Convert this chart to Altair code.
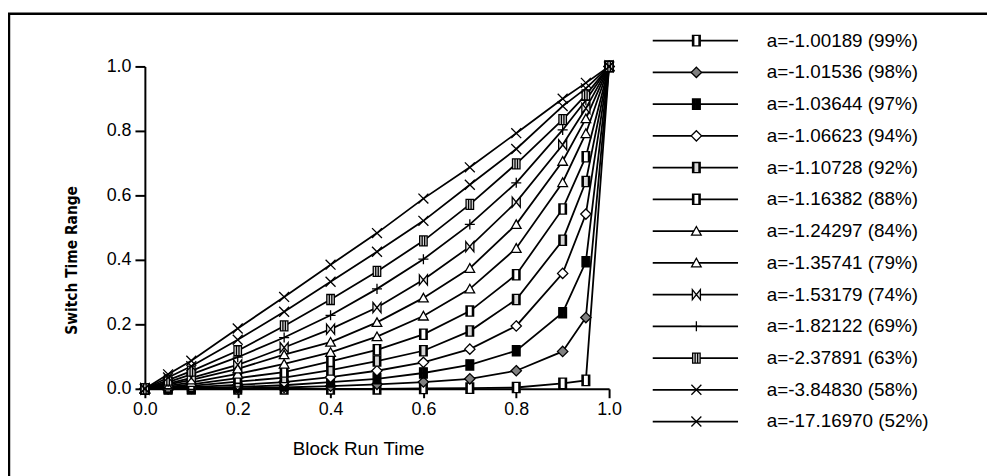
import altair as alt
import pandas as pd

# x positions (Block Run Time)
xs = [0, 0.05, 0.1, 0.2, 0.3, 0.4, 0.5, 0.6, 0.7, 0.8, 0.9, 0.95, 1.0]

labels = [
    "a=-1.00189 (99%)", "a=-1.01536 (98%)", "a=-1.03644 (97%)", "a=-1.06623 (94%)",
    "a=-1.10728 (92%)", "a=-1.16382 (88%)", "a=-1.24297 (84%)", "a=-1.35741 (79%)",
    "a=-1.53179 (74%)", "a=-1.82122 (69%)", "a=-2.37891 (63%)", "a=-3.84830 (58%)",
    "a=-17.16970 (52%)",
]

# Switch Time Range values, one list per series
s01 = [0, 0, 0, 0, 0, 0, 0, 0.001, 0.002, 0.004, 0.017, 0.026, 1]
s02 = [0, 0, 0.001, 0.002, 0.004, 0.008, 0.014, 0.021, 0.031, 0.056, 0.116, 0.221, 1]
s03 = [0, 0.001, 0.002, 0.006, 0.011, 0.021, 0.031, 0.049, 0.074, 0.118, 0.236, 0.394, 1]
s04 = [0, 0.002, 0.005, 0.012, 0.021, 0.036, 0.056, 0.082, 0.123, 0.195, 0.358, 0.542, 1]
s05 = [0, 0.004, 0.009, 0.022, 0.035, 0.058, 0.086, 0.118, 0.179, 0.277, 0.461, 0.643, 1]
s06 = [0, 0.006, 0.014, 0.033, 0.052, 0.085, 0.121, 0.169, 0.241, 0.354, 0.558, 0.720, 1]
s07 = [0, 0.009, 0.020, 0.046, 0.077, 0.113, 0.162, 0.226, 0.310, 0.436, 0.640, 0.792, 1]
s08 = [0, 0.013, 0.028, 0.062, 0.106, 0.145, 0.206, 0.282, 0.374, 0.510, 0.706, 0.838, 1]
s09 = [0, 0.016, 0.034, 0.074, 0.128, 0.185, 0.252, 0.338, 0.441, 0.579, 0.757, 0.870, 1]
s10 = [0, 0.021, 0.045, 0.098, 0.159, 0.228, 0.310, 0.402, 0.510, 0.639, 0.803, 0.895, 1]
s11 = [0, 0.027, 0.055, 0.118, 0.195, 0.277, 0.364, 0.459, 0.572, 0.698, 0.835, 0.912, 1]
s12 = [0, 0.035, 0.070, 0.152, 0.239, 0.332, 0.425, 0.521, 0.633, 0.744, 0.877, 0.932, 1]
s13 = [0, 0.045, 0.087, 0.187, 0.285, 0.385, 0.483, 0.590, 0.687, 0.793, 0.900, 0.949, 1]
series_values = [s01, s02, s03, s04, s05, s06, s07, s08, s09, s10, s11, s12, s13]

# marker styles
P_HBOX = "M-0.75,-1H0.75V1H-0.75ZM-0.5,-1V1M0.5,-1V1"
P_DIAM = "M0,-1L1,0L0,1L-1,0Z"
P_SPLIT = "M-0.75,-1H-0.12V1H-0.75ZM0.12,-1H0.75V1H0.12Z"
P_TRI = "M0,-0.9L0.95,0.8H-0.95Z"
P_BOW = "M-0.8,-1L0.8,1V-1L-0.8,1Z"
P_PLUS = "M-1,0H1M0,-1V1"
P_HASH = "M-0.75,-1H0.75V1H-0.75ZM-0.25,-1V1M0.25,-1V1"
P_X = "M-1,-1L1,1M-1,1L1,-1"
shapes = [P_HBOX, P_DIAM, P_SPLIT, P_DIAM, P_HBOX, P_HBOX, P_TRI, P_TRI, P_BOW, P_PLUS, P_HASH, P_X, P_X]
fills = ["#ffffff", "#808080", "#000000", "#ffffff", "#d8d8d8", "#ffffff", "#ffffff", "#ffffff",
         "#e6e6e6", "#ffffff", "#d8d8d8", "#ffffff", "#ffffff"]
sizes = [110, 100, 110, 64, 120, 110, 100, 100, 110, 100, 110, 130, 90]
widths = [1.3, 1.3, 1.3, 1.5, 1.3, 1.3, 1.6, 2.0, 1.6, 2.0, 1.6, 2.2, 2.6]

rows = []
for lab, vals in zip(labels, series_values):
    for x, y in zip(xs, vals):
        rows.append({"series": lab, "x": x, "y": y})
df = pd.DataFrame(rows)
leg = pd.DataFrame({"series": labels, "row": list(range(len(labels)))})
box = pd.DataFrame({"k": [0]})

shape_enc = alt.Shape("series:N", scale=alt.Scale(domain=labels, range=shapes), legend=None)
fill_enc = alt.Fill("series:N", scale=alt.Scale(domain=labels, range=fills), legend=None)
size_enc = alt.Size("series:N", scale=alt.Scale(domain=labels, range=sizes), legend=None)
sw_enc = alt.StrokeWidth("series:N", scale=alt.Scale(domain=labels, range=widths), legend=None)

even = "abs(round(datum.value*10) % 2) < 0.5"

xenc = alt.X("x:Q", scale=alt.Scale(domain=[0, 1], nice=False),
             axis=alt.Axis(values=[0, 0.2, 0.4, 0.6, 0.8, 1.0], format=".1f", tickSize=9,
                           labelPadding=3, labelFlush=False,
                           title="Block Run Time", titleX=215, titleY=60,
                           titleBaseline="middle", titleAlign="center", titleFontWeight="normal",
                           titleFontSize=19, titleFont="Liberation Sans"))
yenc = alt.Y("y:Q", scale=alt.Scale(domain=[0, 1], nice=False),
             axis=alt.Axis(values=[0, 0.1, 0.2, 0.3, 0.4, 0.5, 0.6, 0.7, 0.8, 0.9, 1.0],
                           labelExpr=f"({even}) ? format(datum.value, '.1f') : ''",
                           tickSize={"condition": {"test": even, "value": 10}, "value": 5},
                           labelPadding=4, labelFlush=False,
                           title="Switch Time Range", titleX=-74, titleY=195,
                           titleAngle=270, titleBaseline="middle", titleAlign="center",
                           titleFont="'DejaVu Sans Condensed', 'Liberation Sans'",
                           titleFontWeight="bold", titleFontSize=15.5))

lines = alt.Chart(df).mark_line(color="black", strokeWidth=1.8).encode(
    x=xenc, y=yenc, detail="series:N")
points = alt.Chart(df).mark_point(filled=True, stroke="black", opacity=1).encode(
    x="x:Q", y="y:Q", shape=shape_enc, fill=fill_enc, size=size_enc, strokeWidth=sw_enc)
main = alt.layer(lines, points)

ly = alt.Y("row:Q", scale=alt.Scale(domain=[0, 12], range=[-26, 358], nice=False, zero=False),
           axis=None)
lrule = alt.Chart(leg).mark_rule(color="black", strokeWidth=1.8).encode(
    x=alt.value(512), x2=alt.value(598), y=ly)
lpts = alt.Chart(leg).mark_point(filled=True, stroke="black", opacity=1).encode(
    x=alt.value(556), y=ly, shape=shape_enc, fill=fill_enc, size=size_enc, strokeWidth=sw_enc)
ltxt = alt.Chart(leg).mark_text(align="left", baseline="middle", fontSize=19,
                                font="Liberation Sans", color="black").encode(
    x=alt.value(627), y=ly, text="series:N")
legend = alt.layer(lrule, lpts, ltxt)

border = alt.Chart(box).mark_rect(filled=False, stroke="black", strokeWidth=2.5).encode(
    x=alt.value(-137), x2=alt.value(900), y=alt.value(-53), y2=alt.value(500))

chart = alt.layer(border, main, legend).resolve_scale(y="independent").properties(
    width=468, height=325,
    autosize=alt.AutoSizeParams(type="none"),
    padding={"left": 138, "top": 57, "right": 381, "bottom": 86},
).configure_view(stroke="transparent").configure_axis(
    grid=False, domainColor="black", domainWidth=2, tickColor="black", tickWidth=2,
    labelColor="black", labelFont="Liberation Sans", labelFontSize=18, titleColor="black",
)

chart.save("out.html", embed_options={"renderer": "svg", "actions": False})
